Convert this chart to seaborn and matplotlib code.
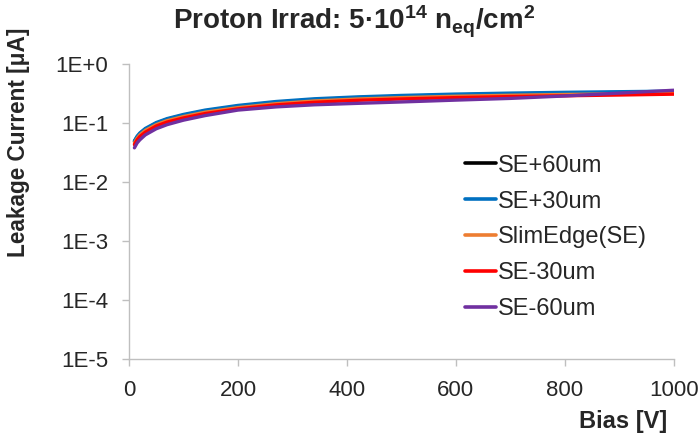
import matplotlib
matplotlib.use("Agg")
import matplotlib.pyplot as plt
import seaborn as sns
import pandas as pd
from matplotlib.ticker import FixedLocator, FixedFormatter
from matplotlib.lines import Line2D

bias = [10, 15, 20, 30, 50, 70, 100, 140, 200, 270, 340, 420, 500, 600, 700, 800, 900, 1000]
se_p60 = [0.049, 0.058, 0.066, 0.079, 0.099, 0.116, 0.136, 0.161, 0.193, 0.225, 0.250, 0.270, 0.285, 0.301, 0.312, 0.322, 0.330, 0.338]
se_p30 = [0.050, 0.060, 0.068, 0.081, 0.102, 0.119, 0.140, 0.166, 0.199, 0.232, 0.258, 0.278, 0.294, 0.310, 0.322, 0.332, 0.340, 0.348]
se_0 = [0.046, 0.055, 0.063, 0.075, 0.094, 0.110, 0.129, 0.153, 0.183, 0.213, 0.237, 0.256, 0.270, 0.285, 0.296, 0.305, 0.313, 0.320]
se_m30 = [0.043, 0.052, 0.059, 0.070, 0.089, 0.104, 0.122, 0.145, 0.174, 0.203, 0.225, 0.243, 0.256, 0.270, 0.281, 0.290, 0.299, 0.309]
se_m60 = [0.038, 0.046, 0.052, 0.063, 0.080, 0.094, 0.112, 0.134, 0.166, 0.188, 0.204, 0.216, 0.228, 0.245, 0.262, 0.288, 0.322, 0.360]

series_names = ["SE+60um", "SE+30um", "SlimEdge(SE)", "SE-30um", "SE-60um"]
series_vals = [se_p60, se_p30, se_0, se_m30, se_m60]
colors = ["#000000", "#0070C0", "#ED7D31", "#FF0000", "#7030A0"]

y_ticks = [1e0, 1e-1, 1e-2, 1e-3, 1e-4, 1e-5]
y_tick_labels = ["1E+0", "1E-1", "1E-2", "1E-3", "1E-4", "1E-5"]
x_ticks = [0, 200, 400, 600, 800, 1000]

rows = []
for name, vals in zip(series_names, series_vals):
    for v, i in zip(bias, vals):
        rows.append({"Bias": v, "Current": i, "Series": name})
df = pd.DataFrame(rows)

sns.set_style("white")
plt.rcParams["font.family"] = ["Liberation Sans", "DejaVu Sans"]
plt.rcParams["mathtext.default"] = "regular"

fig = plt.figure(figsize=(6.99, 4.33), dpi=100)
ax = fig.add_axes([0.1845, 0.171, 0.7795, 0.681])

palette = dict(zip(series_names, colors))
sns.lineplot(data=df, x="Bias", y="Current", hue="Series", hue_order=series_names,
             palette=palette, linewidth=2.4, ax=ax, legend=False, estimator=None, sort=False)

ax.set_yscale("log")
ax.set_ylim(1e-5, 1e0)
ax.set_xlim(0, 1000)
ax.yaxis.set_major_locator(FixedLocator(y_ticks))
ax.yaxis.set_major_formatter(FixedFormatter(y_tick_labels))
ax.yaxis.set_minor_locator(FixedLocator([]))
ax.set_xticks(x_ticks)
ax.set_xticklabels([str(x) for x in x_ticks])

for s in ["top", "right"]:
    ax.spines[s].set_visible(False)
for s in ["left", "bottom"]:
    ax.spines[s].set_color("#BFBFBF")
    ax.spines[s].set_linewidth(1.0)
ax.tick_params(axis="both", which="major", direction="out", length=5, width=1.0,
               color="#BFBFBF", labelsize=16, labelcolor="#262626")
ax.tick_params(axis="y", pad=10)
ax.tick_params(axis="x", pad=10)
ax.tick_params(left=True, bottom=True)

ax.set_xlabel("")
ax.set_ylabel("")
fig.text(0.955, 0.012, "Bias [V]", ha="right", va="baseline", fontsize=17, fontweight="bold")
fig.text(0.026, 0.937, "Leakage Current [μA]", rotation=90, ha="center", va="top",
         fontsize=16.3, fontweight="bold")
fig.text(0.506, 0.931, r"Proton Irrad: 5·10$^{14}$ n$_{eq}$/cm$^{2}$",
         ha="center", va="baseline", fontsize=20, fontweight="bold")

handles = [Line2D([0], [0], color=c, lw=2.6) for c in colors]
fig.legend(handles, series_names, loc="upper left", bbox_to_anchor=(0.665, 0.643),
           bbox_transform=fig.transFigure,
           frameon=False, fontsize=17, handlelength=1.3, handletextpad=0.12,
           labelspacing=0.59, borderpad=0, borderaxespad=0)

fig.savefig("out.png", dpi=100)
